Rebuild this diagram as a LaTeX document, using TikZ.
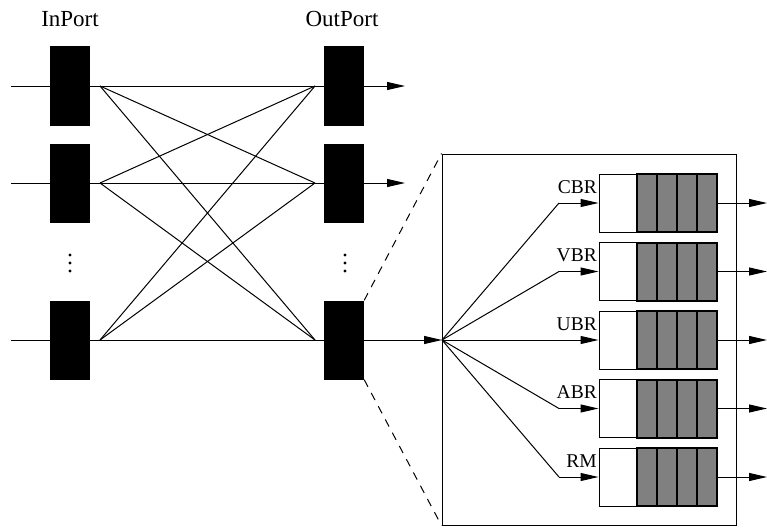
\documentclass[tikz,border=0pt]{standalone}
\usepackage{fontspec}
\setmainfont{Liberation Serif}
\usetikzlibrary{arrows.meta,positioning}

\begin{document}
\begin{tikzpicture}[
    x=1pt, y=-1pt,
    port/.style={rectangle, fill=black, inner sep=0pt, minimum width=40pt, minimum height=79pt},
    queue/.style={rectangle, draw=black, line width=1pt, fill=white, inner sep=0pt, minimum width=118pt, minimum height=58pt},
    cell/.style={draw=black, fill=gray, line width=2pt},
    ln/.style={line width=1pt},
    arr/.style={-{Triangle[length=18pt, width=8pt]}, line width=1pt},
    big/.style={font=\fontsize{23}{26}\selectfont},
    lab/.style={font=\fontsize{19.5}{22}\selectfont, inner sep=0pt, anchor=base east}
]
\useasboundingbox (0,0) rectangle (767,527);

% switch fabric
\foreach \i/\y in {1/86, 2/183, 3/340} {
  \node[port] (in\i) at (70,\y) {};
  \node[port] (out\i) at (344,\y) {};
  \coordinate (s\i) at (11,\y);
  \coordinate (a\i) at (100,\y);
  \coordinate (b\i) at (315,\y);
  \draw[ln] (s\i) -- (in\i.west);
  \draw[ln] (in\i.east) -- (out\i.west);
}
\node[big, anchor=base] (inlab) at (70,27) {InPort};
\node[big, anchor=base] (outlab) at (342,27) {OutPort};

\foreach \i in {1,2,3}
  \foreach \j in {1,2,3}
    \draw[ln] (a\i) -- (b\j);

\foreach \x in {70,345}
  \foreach \y in {255,263,271}
    \fill (\x,\y) circle (1.6pt);

\coordinate (e1) at (405,86);
\coordinate (e2) at (405,183);
\draw[arr] (out1.east) -- (e1);
\draw[arr] (out2.east) -- (e2);

% zoomed output port
\node[rectangle, draw=black, line width=1pt, inner sep=0pt, minimum width=294pt, minimum height=371pt] (sw) at (589,339.5) {};
\draw[ln, dash pattern=on 8pt off 7pt] (out3.north east) -- (sw.north west);
\draw[ln, dash pattern=on 8pt off 7pt] (out3.south east) -- (sw.south west);
\coordinate (hub) at (442,340);
\draw[arr] (out3.east) -- (hub);

\foreach \i/\t in {1/CBR, 2/VBR, 3/UBR, 4/ABR, 5/RM} {
  \pgfmathsetmacro{\yy}{340+(\i-3)*68.5}
  \node[queue] (q\i) at (658,\yy) {};
  \foreach \k in {0,1,2,3}
    \draw[cell] ({637+20*\k},{\yy-29}) rectangle ({657+20*\k},{\yy+29});
  \coordinate (k\i) at (559,\yy);
  \coordinate (o\i) at (767,\yy);
  \node[lab] (l\i) at (597,{\yy-10}) {\t};
  \draw[ln] (hub) -- (k\i);
  \draw[arr] (k\i) -- (q\i.west);
  \draw[arr] (q\i.east) -- (o\i);
}
\end{tikzpicture}
\end{document}
